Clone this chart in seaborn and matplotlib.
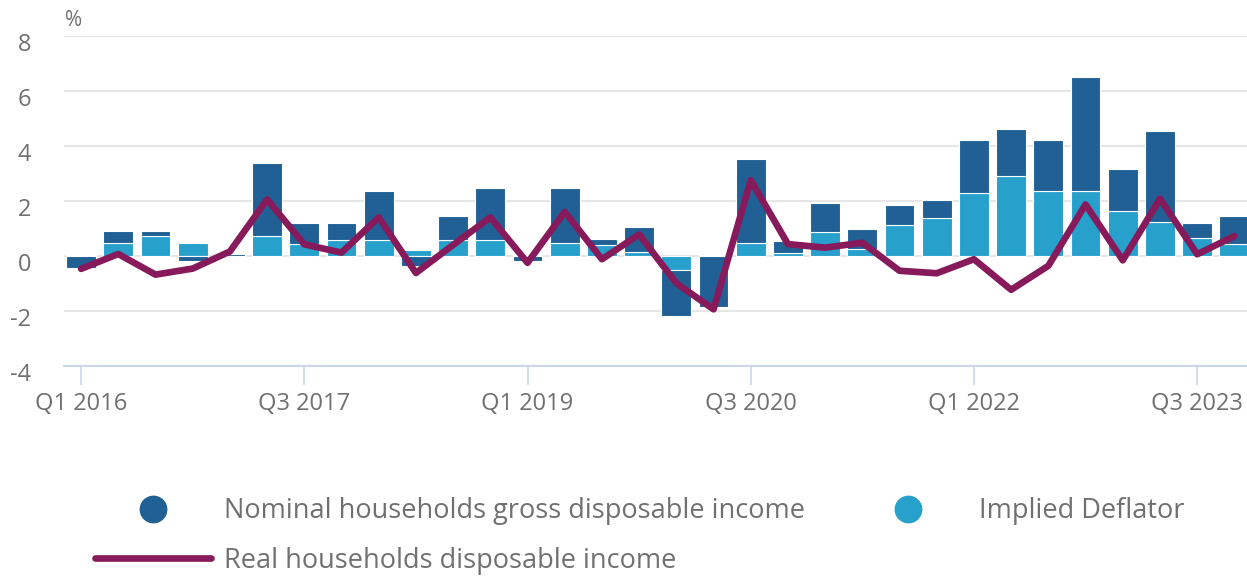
import numpy as np
import pandas as pd
import matplotlib.pyplot as plt
import matplotlib.transforms as mtransforms
from matplotlib.lines import Line2D
import seaborn as sns

# STYLE
sns.set_theme(style="white")
plt.rcParams["font.family"] = ["Open Sans", "DejaVu Sans"]
plt.rcParams["axes.unicode_minus"] = False

DARK = "#206095"
LIGHT = "#27a0cc"
PLUM = "#871a5b"
TEXT = "#707070"
GRID = "#e6e6e6"
AXIS = "#ccd6eb"

# DATA (quarterly % change, Q1 2016 - Q4 2023)
quarters = [f"Q{q} {y}" for y in range(2016, 2024) for q in range(1, 5)]
tick_labels = ["Q1 2016", "Q3 2017", "Q1 2019", "Q3 2020", "Q1 2022", "Q3 2023"]

# implied deflator (first bar segment)
deflator = [0.04, 0.46, 0.73, 0.46, 0.00, 0.73, 0.42, 0.57,
            0.57, 0.22, 0.57, 0.57, 0.02, 0.47, 0.38, 0.14,
            -0.52, 0.05, 0.47, 0.10, 0.88, 0.24, 1.12, 1.39,
            2.27, 2.92, 2.36, 2.36, 1.62, 1.23, 0.64, 0.42]

# nominal gross disposable income (stacked segment)
nominal = [-0.44, 0.43, 0.16, -0.19, 0.06, 2.64, 0.79, 0.64,
           1.80, -0.36, 0.89, 1.89, -0.18, 1.99, 0.24, 0.91,
           -1.65, -1.85, 3.06, 0.46, 1.06, 0.73, 0.73, 0.63,
           1.93, 1.69, 1.84, 4.13, 1.53, 3.30, 0.57, 1.03]

# real households disposable income (line)
real = [-0.47, 0.07, -0.68, -0.46, 0.16, 2.05, 0.42, 0.12,
        1.40, -0.62, 0.40, 1.40, -0.25, 1.60, -0.12, 0.78,
        -0.99, -1.94, 2.75, 0.43, 0.30, 0.48, -0.54, -0.63,
        -0.12, -1.23, -0.36, 1.87, -0.16, 2.08, 0.06, 0.72]


def build_frame():
    df = pd.DataFrame({"quarter": quarters, "deflator": deflator,
                       "nominal": nominal, "real": real})
    df["pos"] = np.arange(len(df))
    # relative stacking: positives on positives, negatives on negatives
    same_sign = np.sign(df["nominal"]) == np.sign(df["deflator"])
    df["bottom"] = np.where(same_sign, df["deflator"], 0.0)
    return df


def draw(df):
    fig = plt.figure(figsize=(12.47, 5.76), dpi=100)
    ax = fig.add_axes([0.0516, 0.3646, 0.9484, 0.5733])

    sns.barplot(data=df, x="pos", y="deflator", native_scale=True,
                color=LIGHT, saturation=1, width=0.8, errorbar=None,
                edgecolor="white", linewidth=0.8, ax=ax)
    sns.barplot(data=df, x="pos", y="nominal", native_scale=True,
                color=DARK, saturation=1, width=0.8, errorbar=None,
                bottom=df["bottom"].values,
                edgecolor="white", linewidth=0.8, ax=ax)
    sns.lineplot(data=df, x="pos", y="real", color=PLUM, linewidth=4.8,
                 ax=ax, legend=False, zorder=5)

    ax.set_xlim(-0.45, 31.34)
    ax.set_ylim(-4, 8)
    ax.set_yticks(range(-4, 9, 2))
    ax.set_xticks(range(0, 32, 6), tick_labels)
    ax.set_xlabel("")
    ax.set_ylabel("")

    ax.set_axisbelow(True)
    ax.yaxis.grid(True, color=GRID, linewidth=1.5)
    ax.xaxis.grid(False)
    for side in ["top", "right", "left"]:
        ax.spines[side].set_visible(False)
    ax.spines["bottom"].set_color(AXIS)
    ax.spines["bottom"].set_linewidth(1.5)

    ax.tick_params(axis="x", length=14, width=1.2, color=AXIS,
                   labelcolor=TEXT, labelsize=17, pad=5, bottom=True)
    ax.tick_params(axis="y", length=0, labelcolor=TEXT, labelsize=17,
                   pad=24)
    offset = mtransforms.ScaledTranslation(0, -6 / 100, fig.dpi_scale_trans)
    for lab in ax.get_yticklabels():
        lab.set_transform(lab.get_transform() + offset)

    fig.text(65 / 1247, 1 - 20 / 576, "%", color=TEXT, fontsize=15,
             ha="left", va="center")

    handles = [
        Line2D([], [], marker="o", linestyle="none", markersize=19,
               color=DARK),
        Line2D([], [], color=PLUM, linewidth=4.8),
        Line2D([], [], marker="o", linestyle="none", markersize=19,
               color=LIGHT),
    ]
    labels = ["Nominal households gross disposable income",
              "Real households disposable income",
              "Implied Deflator"]
    fig.legend(handles, labels, ncol=2, loc="upper left",
               bbox_to_anchor=(95 / 1247, 1 - 497 / 576), frameon=False,
               fontsize=19.5, handlelength=4.3, handletextpad=0.45,
               columnspacing=1.68, labelspacing=0.8, borderpad=0,
               borderaxespad=0, labelcolor=TEXT)

    fig.savefig("out.png", dpi=100)
    plt.close(fig)


if __name__ == "__main__":
    draw(build_frame())
